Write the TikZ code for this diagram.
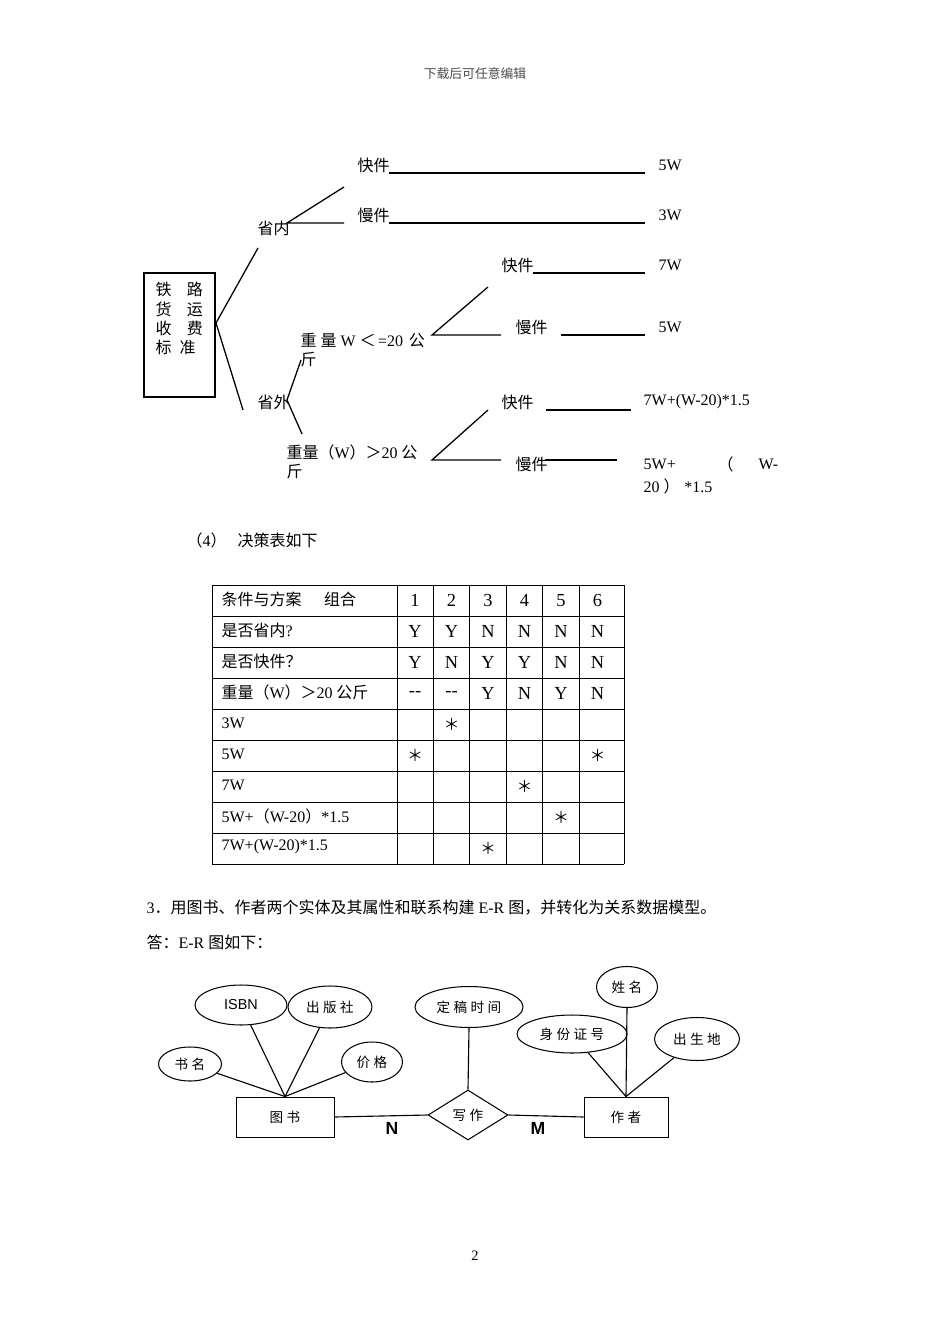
\documentclass[tikz,border=0pt]{standalone}
\usepackage{fontspec}
\setmainfont{Liberation Serif}
\newfontfamily\zh{Noto Sans CJK SC}
\newfontfamily\zhw[LetterSpace=25]{Noto Sans CJK SC}
\newfontfamily\arial{Liberation Sans}
\usetikzlibrary{shapes.geometric}
\newcommand\px{0.625pt}
\newcommand\twodash{-{}-}
\tikzset{
  lbl/.style={anchor=west, inner sep=0pt, font=\zh\fontsize{10pt}{12pt}\selectfont},
  res/.style={anchor=west, inner sep=0pt, font=\fontsize{10pt}{12pt}\selectfont},
  cell/.style={inner sep=0pt, font=\fontsize{11.5pt}{13pt}\selectfont},
  star/.style={inner sep=0pt, font=\zh\fontsize{10pt}{11pt}\selectfont},
  attr/.style={draw, ellipse, inner sep=0pt, line width=0.65pt, font=\zhw\fontsize{8.5pt}{10pt}\selectfont},
  ent/.style={draw, rectangle, inner sep=0pt, line width=0.6pt, font=\zhw\fontsize{8.5pt}{10pt}\selectfont},
  rel/.style={draw, diamond, inner sep=0pt, line width=0.65pt, font=\zhw\fontsize{8.5pt}{10pt}\selectfont},
  card/.style={inner sep=0pt, font=\arial\bfseries\fontsize{11pt}{12pt}\selectfont}
}
\begin{document}
\begin{tikzpicture}[x=0.625pt, y=-0.625pt, line width=0.8pt]
\useasboundingbox[fill=white] (0,0) rectangle (950,1344);

\node[inner sep=0pt, text=black!70, font=\zh\fontsize{8pt}{10pt}\selectfont] (head) at (475,74) {下载后可任意编辑};

\node[draw, inner sep=0pt, minimum width=71*\px, minimum height=124*\px] (box) at (179.5,335) {};
\node[lbl] (bx1) at (155,289) {铁\hspace{9.5pt}路};
\node[lbl] (bx2) at (155,309) {货\hspace{9.5pt}运};
\node[lbl] (bx3) at (155,328) {收\hspace{9.5pt}费};
\node[lbl] (bx4) at (155,347) {标\hspace{5pt}准};

\node[lbl] (sn) at (257,228) {省内};
\node[lbl] (sw) at (257,402) {省外};
\node[lbl] (kn) at (357,165) {快件};
\node[lbl] (mn) at (357,215) {慢件};
\node[lbl] (k2) at (501,265) {快件};
\node[lbl] (m2) at (515,327) {慢件};
\node[lbl] (k3) at (501,402) {快件};
\node[lbl] (m3) at (515,464) {慢件};
\node[lbl] (wa) at (300,340) {重\hspace{2.5pt}量\hspace{2.5pt}{\rmfamily W}\hspace{2.5pt}＜\hspace{1.5pt}{\rmfamily =20}\hspace{3.5pt}公};
\node[lbl] (wa2) at (300,360) {斤};
\node[lbl] (wb) at (286,452) {重量（{\rmfamily W}）＞{\rmfamily 20} 公};
\node[lbl] (wb2) at (286,472) {斤};

\node[res] (r1) at (658,165) {5W};
\node[res] (r2) at (658,215) {3W};
\node[res] (r3) at (658,265) {7W};
\node[res] (r4) at (658,327) {5W};
\node[res] (r5) at (643,402) {7W+(W-20)*1.5};
\node[res] (r6) at (643,464) {5W+};
\node[lbl] (r6b) at (717,464) {（};
\node[res] (r6c) at (758,464) {W-};
\node[res] (r6d) at (643,486) {20 {\zh ）}\hspace{3pt}*1.5};

\coordinate (a0) at (216,323);
\coordinate (a1) at (258,248);
\coordinate (a2) at (243,410);
\coordinate (b0) at (287,223);
\coordinate (b1) at (344,187);
\coordinate (b2) at (344,223);
\coordinate (c0) at (287,400);
\coordinate (c1) at (301,360);
\coordinate (c2) at (302,434);
\coordinate (d0) at (432,335);
\coordinate (d1) at (488,287);
\coordinate (d2) at (501,335);
\coordinate (e0) at (432,460);
\coordinate (e1) at (488,410);
\coordinate (e2) at (501,460);

\draw (a1) -- (a0) -- (a2);
\draw (b1) -- (b0) -- (b2);
\draw (c1) -- (c0) -- (c2);
\draw (d1) -- (d0) -- (d2);
\draw (e1) -- (e0) -- (e2);

\draw (389,173) -- (645,173);
\draw (389,223) -- (645,223);
\draw (533,273) -- (645,273);
\draw (561,335) -- (645,335);
\draw (546,410) -- (631,410);
\draw (545,460) -- (617,460);

\node[lbl] (t4) at (186,540) {（{\rmfamily 4}）};
\node[lbl] (t4b) at (237,540) {决策表如下};

\foreach \y in {585,616,647,678,709,740,771,802,833,864}
  \draw[line width=0.6pt] (212,\y) -- (624,\y);
\foreach \x in {212,397,433,469,506,542,579,624}
  \draw[line width=0.6pt] (\x,585) -- (\x,864);

\node[lbl] (h0) at (221,599) {条件与方案\hspace{14pt}组合};
\node[lbl] (h1) at (221,630) {是否省内{\rmfamily ?}};
\node[lbl] (h2) at (221,661) {是否快件？};
\node[lbl] (h3) at (221,692) {重量（{\rmfamily W}）＞{\rmfamily 20} 公斤};
\node[res] (h4) at (221,723) {3W};
\node[res] (h5) at (221,754) {5W};
\node[res] (h6) at (221,785) {7W};
\node[res] (h7) at (221,816) {5W+{\zh （}W-20{\zh ）}*1.5};
\node[res] (h8) at (221,847) {7W+(W-20)*1.5};

\foreach \row [count=\i] in {{1,2,3,4,5,6},{Y,Y,N,N,N,N},{Y,N,Y,Y,N,N},{\twodash,\twodash,Y,N,Y,N}}
  \foreach \v [count=\j] in \row
    \node[cell] (c\i\j) at ({415+36.5*(\j-1)},{600.5+31*(\i-1)}) {\v};

\foreach \i/\j in {5/2,6/1,6/6,7/4,8/5,9/3}
  \node[star] (s\i\j) at ({415+36.5*(\j-1)},{600.5+31*(\i-1)}) {＊};

\node[lbl] (q3) at (146,908) {{\rmfamily 3}．用图书、作者两个实体及其属性和联系构建{\rmfamily\ E-R }图，并转化为关系数据模型。};
\node[lbl] (ans) at (146,942) {答：{\rmfamily E-R }图如下：};

\node[ent, minimum width=98*\px, minimum height=40*\px] (ts) at (285,1117) {图书};
\node[ent, minimum width=84*\px, minimum height=40*\px] (zz) at (626,1117) {作者};
\node[rel, minimum width=80*\px, minimum height=50*\px] (xz) at (468,1115) {写作};

\node[attr, minimum width=63*\px, minimum height=34*\px] (sm) at (190,1064) {书名};
\node[attr, minimum width=92*\px, minimum height=40*\px, font=\arial\fontsize{9pt}{10pt}\selectfont] (isbn) at (241,1005) {ISBN};
\node[attr, minimum width=84*\px, minimum height=42*\px] (cbs) at (330,1007) {出版社};
\node[attr, minimum width=61*\px, minimum height=40*\px] (jg) at (372,1062) {价格};
\node[attr, minimum width=108*\px, minimum height=41*\px] (dg) at (469,1007) {定稿时间};
\node[attr, minimum width=61*\px, minimum height=41*\px] (xm) at (627,987) {姓名};
\node[attr, minimum width=110*\px, minimum height=38*\px] (sf) at (572,1034) {身份证号};
\node[attr, minimum width=85*\px, minimum height=43*\px] (csd) at (697,1039) {出生地};

\begin{scope}[line width=0.7pt]
\draw (sm) -- (ts.north);
\draw (isbn) -- (ts.north);
\draw (cbs) -- (ts.north);
\draw (jg) -- (ts.north);
\draw (dg.south) -- (xz.north);
\draw (xm.south) -- (zz.north);
\draw (sf) -- (zz.north);
\draw (csd) -- (zz.north);
\draw (ts.east) -- (xz.west);
\draw (xz.east) -- (zz.west);
\end{scope}

\node[card] (cn) at (392,1128) {N};
\node[card] (cm) at (538,1128) {M};

\node[res, anchor=center, font=\fontsize{9pt}{10pt}\selectfont] (pg) at (475,1256) {2};
\end{tikzpicture}
\end{document}
